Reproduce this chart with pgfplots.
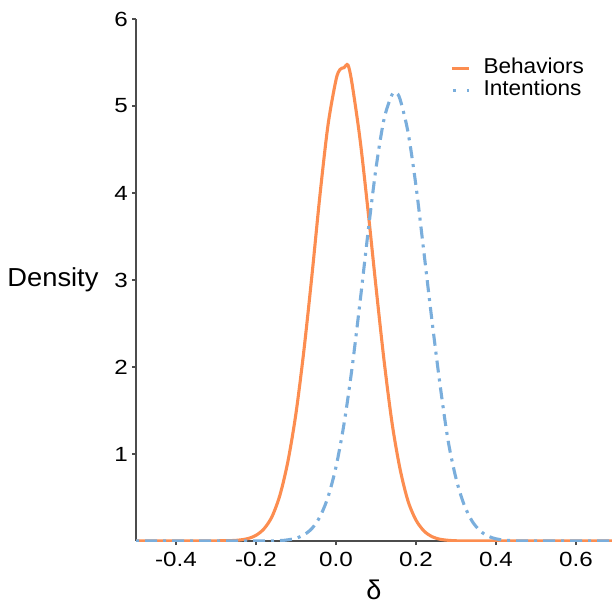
\documentclass[border=0pt]{standalone}
\usepackage{fontspec}
\setmainfont{Liberation Sans}
\newfontfamily\tickfont[FakeStretch=1.18]{Liberation Sans}
\newfontfamily\legfont[FakeStretch=1.05]{Liberation Sans}
\usepackage{pgfplots}
\pgfplotsset{compat=1.18}
\definecolor{behav}{RGB}{252,141,80}
\definecolor{inten}{RGB}{122,174,220}
\pgfplotsset{dotleg/.style={legend image code/.code={\draw[##1, dash pattern=on 3pt off 11pt] (0.03cm,0cm) -- (0.6cm,0cm);}}}
\begin{document}
\begin{tikzpicture}
\begin{axis}[
  at={(136pt,66pt)}, anchor=south west,
  scale only axis, width=476pt, height=522pt,
  xmin=-0.5, xmax=0.69, ymin=0, ymax=6,
  axis x line*=bottom, axis y line*=left,
  axis line style={line width=1.2pt, color=black!70},
  tick style={line width=1.2pt, color=black!70},
  tick align=outside, major tick length=4pt,
  xtick={-0.4,-0.2,0,0.2,0.4,0.6},
  xticklabels={-0.4,-0.2,0.0,0.2,0.4,0.6},
  ytick={1,2,3,4,5,6},
  yticklabels={1,2,3,4,5,6},
  ticklabel style={font=\tickfont\fontsize{20.5}{24}\selectfont, color=black},
  xticklabel style={anchor=north, inner sep=0pt, yshift=-7pt},
  yticklabel style={anchor=east, inner sep=0pt, xshift=-4pt},
  xlabel={δ}, ylabel={Density},
  every axis x label/.style={at={(axis description cs:0.5,0)}, anchor=base, yshift=-58pt, font=\fontsize{27}{30}\selectfont},
  every axis y label/.style={at={(axis description cs:0,0.5)}, anchor=east, xshift=-34pt, font=\legfont\fontsize{26}{30}\selectfont},
  legend style={draw=none, fill=none, inner sep=0pt, at={(rel axis cs:0.66,0.927)}, anchor=north west,
    font=\legfont\fontsize{21.5}{22}\selectfont, column sep=12pt,
    nodes={inner sep=1pt, text height=15pt, text depth=5pt}},
  legend cell align=left,
  clip=true,
]
\addplot[color=behav, line width=3.1pt, smooth] coordinates {
(-0.50,0) (-0.40,0) (-0.30,0.002) (-0.26,0.005) (-0.24,0.012) (-0.22,0.028)
(-0.20,0.065) (-0.18,0.14) (-0.16,0.28) (-0.14,0.53) (-0.12,0.92) (-0.10,1.47)
(-0.08,2.20) (-0.06,3.06) (-0.04,3.98) (-0.02,4.78) (0.00,5.30) (0.01,5.42)
(0.02,5.44) (0.03,5.47) (0.04,5.26) (0.06,4.62) (0.08,3.80) (0.10,2.92)
(0.12,2.08) (0.14,1.36) (0.16,0.83) (0.18,0.46) (0.20,0.24) (0.22,0.115)
(0.24,0.05) (0.26,0.02) (0.28,0.008) (0.30,0.003) (0.34,0) (0.70,0)
};
\addlegendentry{Behaviors}
\addplot[color=inten, line width=3.1pt, smooth, dash pattern=on 3pt off 6pt on 12pt off 6pt, dotleg] coordinates {
(-0.50,0) (-0.20,0) (-0.14,0.005) (-0.12,0.014) (-0.10,0.032) (-0.08,0.071)
(-0.06,0.145) (-0.04,0.28) (-0.02,0.505) (0.00,0.852) (0.02,1.345) (0.04,1.985)
(0.06,2.743) (0.08,3.544) (0.10,4.285) (0.12,4.847) (0.14,5.13) (0.15,5.15)
(0.16,5.08) (0.18,4.70) (0.20,4.08) (0.22,3.31) (0.24,2.53) (0.26,1.80)
(0.28,1.16) (0.30,0.72) (0.32,0.42) (0.34,0.23) (0.36,0.118) (0.38,0.056)
(0.40,0.025) (0.42,0.010) (0.44,0.004) (0.48,0) (0.70,0)
};
\addlegendentry{Intentions}
\end{axis}
\pgfresetboundingbox
\useasboundingbox (0,0) rectangle (612pt,607pt);
\end{tikzpicture}
\end{document}
